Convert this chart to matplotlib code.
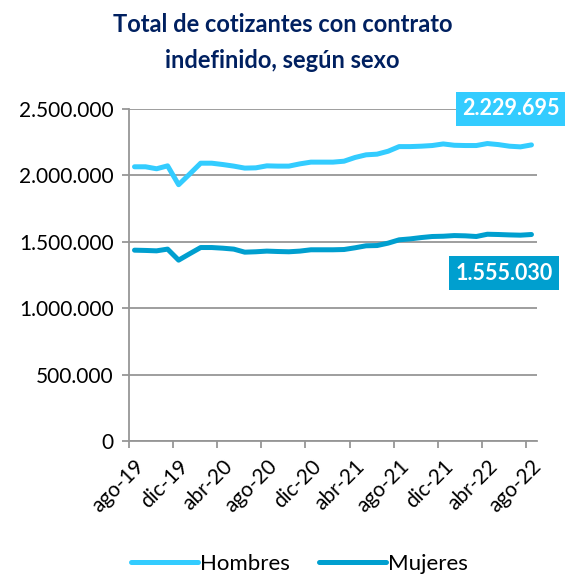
import matplotlib
matplotlib.use("Agg")
import matplotlib.pyplot as plt
from matplotlib.ticker import FuncFormatter, FixedLocator

plt.rcParams['font.family'] = ['Lato', 'DejaVu Sans']

months = ["ago-19", "sep-19", "oct-19", "nov-19", "dic-19", "ene-20", "feb-20", "mar-20",
          "abr-20", "may-20", "jun-20", "jul-20", "ago-20", "sep-20", "oct-20", "nov-20",
          "dic-20", "ene-21", "feb-21", "mar-21", "abr-21", "may-21", "jun-21", "jul-21",
          "ago-21", "sep-21", "oct-21", "nov-21", "dic-21", "ene-22", "feb-22", "mar-22",
          "abr-22", "may-22", "jun-22", "jul-22", "ago-22"]

hombres = [2065000, 2065000, 2050000, 2072000, 1930000, 2010000, 2092000, 2092000,
           2082000, 2070000, 2055000, 2057000, 2072000, 2070000, 2070000, 2087000,
           2100000, 2100000, 2100000, 2107000, 2135000, 2155000, 2160000, 2182000,
           2217000, 2217000, 2220000, 2225000, 2237000, 2227000, 2225000, 2225000,
           2240000, 2232000, 2220000, 2215000, 2229695]

mujeres = [1437000, 1435000, 1432000, 1445000, 1362000, 1410000, 1457000, 1457000,
           1452000, 1445000, 1422000, 1425000, 1430000, 1427000, 1425000, 1430000,
           1440000, 1440000, 1440000, 1442000, 1455000, 1470000, 1472000, 1490000,
           1515000, 1522000, 1532000, 1540000, 1542000, 1547000, 1545000, 1540000,
           1557000, 1555000, 1552000, 1550000, 1555030]

c_h = "#33CCFF"
c_m = "#009FCF"
grid_c = "#969696"

fig = plt.figure(figsize=(5.65, 5.78), dpi=100)
ax = fig.add_axes([0.2283, 0.237, 0.7221, 0.5744])

x = list(range(len(months)))
ax.plot(x, hombres, color=c_h, lw=3.6, solid_capstyle="round", label="Hombres", zorder=3)
ax.plot(x, mujeres, color=c_m, lw=3.6, solid_capstyle="round", label="Mujeres", zorder=3)

ax.set_ylim(0, 2500000)
ax.set_xlim(-0.5, len(months) - 0.5)
ax.set_yticks([0, 500000, 1000000, 1500000, 2000000, 2500000])
ax.yaxis.set_major_formatter(FuncFormatter(lambda v, p: f"{int(v):,}".replace(",", ".")))
ax.grid(axis="y", color=grid_c, lw=1.3, zorder=1)

lab_idx = list(range(0, len(months), 4))
ax.set_xticks(lab_idx)
ax.set_xticklabels([months[i] for i in lab_idx], rotation=45, ha="right",
                   rotation_mode="anchor", fontsize=15)
ax.tick_params(axis="x", length=0, pad=11)
ax.xaxis.set_minor_locator(FixedLocator([i - 0.5 for i in lab_idx]))
ax.tick_params(axis="x", which="minor", length=5, width=1.3, color=grid_c, direction="out")
ax.tick_params(axis="y", length=5, width=1.3, color=grid_c, labelsize=15, pad=6)

for s in ["top", "right"]:
    ax.spines[s].set_visible(False)
for s in ["left", "bottom"]:
    ax.spines[s].set_color(grid_c)
    ax.spines[s].set_linewidth(1.3)

fig.text(0.5, 0.957, "Total de cotizantes con contrato", ha="center", va="center",
         fontsize=17, fontweight="bold", color="#002060")
fig.text(0.5, 0.895, "indefinido, según sexo", ha="center", va="center",
         fontsize=17, fontweight="bold", color="#002060")

fig.text(0.904, 0.812, "2.229.695", ha="center", va="center", fontsize=15.5,
         fontweight="bold", color="white",
         bbox=dict(boxstyle="square,pad=0.3", fc=c_h, ec="none"))
fig.text(0.892, 0.527, "1.555.030", ha="center", va="center", fontsize=15.5,
         fontweight="bold", color="white",
         bbox=dict(boxstyle="square,pad=0.3", fc=c_m, ec="none"))

fig.legend(loc="center", bbox_to_anchor=(0.53, 0.024), ncol=2, frameon=False,
           fontsize=16, handlelength=3.0, handletextpad=0.1, columnspacing=1.3)

fig.savefig("out.png", dpi=100)
